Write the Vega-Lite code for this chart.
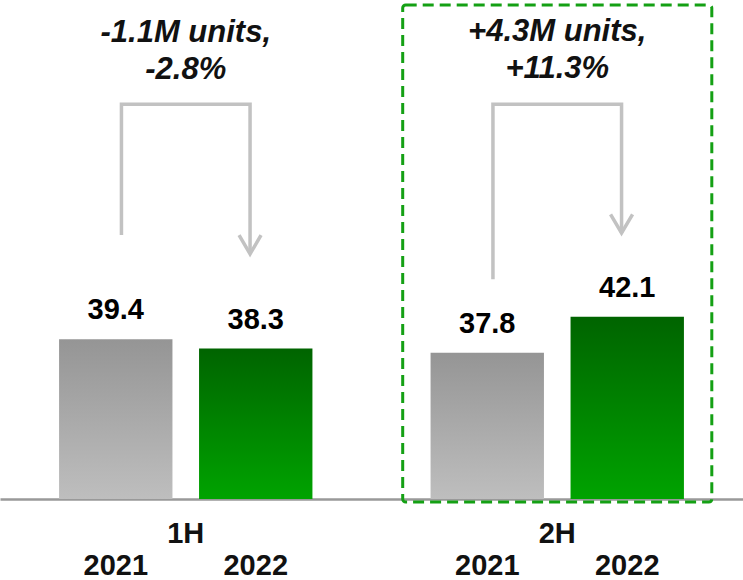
{
  "$schema": "https://vega.github.io/schema/vega-lite/v6.json",
  "width": 743,
  "height": 499,
  "autosize": "none",
  "padding": {"left": 0, "top": 0, "right": 0, "bottom": 81},
  "background": "white",
  "config": {"view": {"stroke": null}, "font": "Liberation Sans"},
  "datasets": {
    "bars": [
      {"half": "1H", "year": "2021", "value": 39.4},
      {"half": "1H", "year": "2022", "value": 38.3},
      {"half": "2H", "year": "2021", "value": 37.8},
      {"half": "2H", "year": "2022", "value": 42.1}
    ],
    "arrows": [
      {"half": "1H", "year": "2021", "seq": 1, "level": 51.85},
      {"half": "1H", "year": "2021", "seq": 2, "level": 67.47},
      {"half": "1H", "year": "2022", "seq": 3, "level": 67.47},
      {"half": "1H", "year": "2022", "seq": 4, "level": 49.6},
      {"half": "2H", "year": "2021", "seq": 1, "level": 46.57},
      {"half": "2H", "year": "2021", "seq": 2, "level": 67.47},
      {"half": "2H", "year": "2022", "seq": 3, "level": 67.47},
      {"half": "2H", "year": "2022", "seq": 4, "level": 52.1}
    ],
    "notes": [
      {"half": "1H", "label": "-1.1M units,\n-2.8%", "level": 74.92},
      {"half": "2H", "label": "+4.3M units,\n+11.3%", "level": 75.1}
    ],
    "box": [
      {"half": "2H", "top": 79.34, "bottom": 19.96}
    ],
    "halves": [
      {"half": "1H"},
      {"half": "2H"}
    ]
  },
  "encoding": {
    "x": {
      "field": "half",
      "type": "nominal",
      "scale": {"domain": ["1H", "2H"], "paddingInner": 0.318, "paddingOuter": 0.159},
      "axis": {"title": null, "labels": false, "ticks": false, "domain": true, "domainColor": "#999999", "domainWidth": 2.5, "grid": false}
    }
  },
  "resolve": {"scale": {"xOffset": "independent"}},
  "layer": [
    {
      "layer": [
        {
          "data": {"name": "bars"},
          "transform": [{"filter": "datum.year == '2021'"}],
          "mark": {
            "type": "bar",
            "fill": {"gradient": "linear", "x1": 0, "y1": 0, "x2": 0, "y2": 1,
              "stops": [{"offset": 0, "color": "#959595"}, {"offset": 1, "color": "#bebebe"}]}
          },
          "encoding": {
            "xOffset": {"field": "year", "type": "nominal", "scale": {"domain": ["2021", "2022"], "paddingInner": 0.19, "paddingOuter": 0}},
            "y": {"field": "value", "type": "quantitative", "scale": {"domain": [20.32, 79.94], "zero": false, "nice": false}, "axis": null},
            "y2": {"datum": 20.32}
          }
        },
        {
          "data": {"name": "bars"},
          "transform": [{"filter": "datum.year == '2022'"}],
          "mark": {
            "type": "bar",
            "fill": {"gradient": "linear", "x1": 0, "y1": 0, "x2": 0, "y2": 1,
              "stops": [{"offset": 0, "color": "#006400"}, {"offset": 1, "color": "#00a300"}]}
          },
          "encoding": {
            "xOffset": {"field": "year", "type": "nominal"},
            "y": {"field": "value", "type": "quantitative"},
            "y2": {"datum": 20.32}
          }
        },
        {
          "data": {"name": "bars"},
          "mark": {"type": "text", "baseline": "alphabetic", "dy": -20, "fontSize": 29, "fontWeight": "bold", "color": "#000000"},
          "encoding": {
            "xOffset": {"field": "year", "type": "nominal"},
            "y": {"field": "value", "type": "quantitative"},
            "text": {"field": "value", "type": "quantitative", "format": ".1f"}
          }
        },
        {
          "data": {"name": "bars"},
          "mark": {"type": "text", "baseline": "alphabetic", "dy": 76, "fontSize": 29, "fontWeight": "bold", "color": "#111111"},
          "encoding": {
            "xOffset": {"field": "year", "type": "nominal"},
            "y": {"datum": 20.32},
            "text": {"field": "year", "type": "nominal"}
          }
        }
      ]
    },
    {
      "layer": [
        {
          "data": {"name": "arrows"},
          "mark": {"type": "line", "color": "#c2c2c2", "strokeWidth": 3.5, "strokeJoin": "miter", "strokeCap": "butt"},
          "encoding": {
            "xOffset": {"field": "year", "type": "nominal", "scale": {"type": "point", "domain": ["2021", "2022"], "padding": 0.485}},
            "y": {"field": "level", "type": "quantitative"},
            "detail": {"field": "half", "type": "nominal"},
            "order": {"field": "seq", "type": "quantitative"}
          }
        },
        {
          "data": {"name": "arrows"},
          "transform": [{"filter": "datum.seq == 4"}],
          "mark": {"type": "point", "shape": "M-1,-1.7L0,0L1,-1.7", "filled": false, "size": 484, "stroke": "#c2c2c2", "strokeWidth": 3.5, "opacity": 1, "strokeJoin": "miter"},
          "encoding": {
            "xOffset": {"field": "year", "type": "nominal"},
            "y": {"field": "level", "type": "quantitative"}
          }
        }
      ]
    },
    {
      "data": {"name": "notes"},
      "mark": {"type": "text", "baseline": "alphabetic", "lineBreak": "\n", "lineHeight": 37, "fontSize": 31, "fontWeight": "bold", "fontStyle": "italic", "color": "#111111"},
      "encoding": {
        "y": {"field": "level", "type": "quantitative"},
        "text": {"field": "label", "type": "nominal"}
      }
    },
    {
      "data": {"name": "box"},
      "mark": {"type": "bar", "width": {"band": 1.22}, "fill": null, "fillOpacity": 0, "stroke": "#14a014", "strokeWidth": 3, "strokeDash": [11, 6], "cornerRadius": 3},
      "encoding": {
        "y": {"field": "top", "type": "quantitative"},
        "y2": {"field": "bottom"}
      }
    },
    {
      "data": {"name": "halves"},
      "mark": {"type": "text", "baseline": "alphabetic", "dy": 44, "fontSize": 29, "fontWeight": "bold", "color": "#111111"},
      "encoding": {
        "y": {"datum": 20.32},
        "text": {"field": "half", "type": "nominal"}
      }
    }
  ]
}
